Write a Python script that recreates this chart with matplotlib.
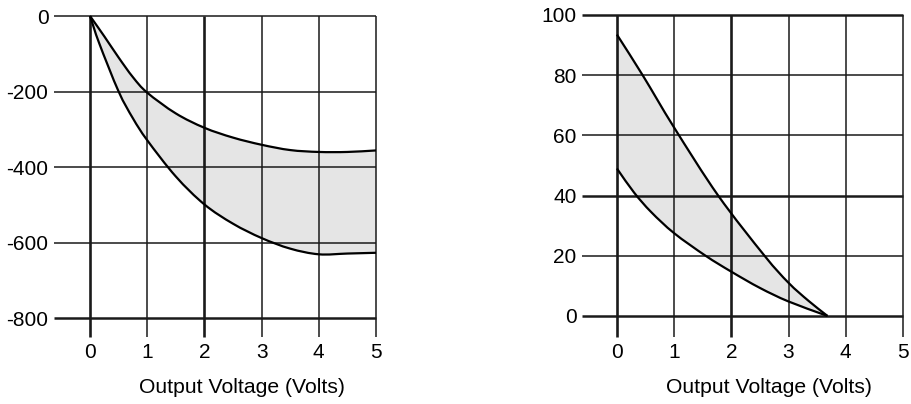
import matplotlib
matplotlib.use("Agg")
import matplotlib.pyplot as plt
import matplotlib.transforms as mtransforms
from matplotlib.path import Path
from matplotlib.patches import PathPatch
import numpy as np

plt.rcParams['font.family'] = ['Liberation Sans', 'DejaVu Sans']
plt.rcParams['axes.unicode_minus'] = False

# left chart: two boundary curves
left_x_upper = [0, 0.25, 0.5, 0.75, 1, 1.5, 2, 2.5, 3, 3.5, 4, 4.5, 5]
left_y_upper = [0, -54, -110, -162, -203, -258, -296, -322, -341, -355, -360, -360, -356]
left_x_lower = [0, 0.16, 0.5, 0.75, 1, 1.5, 2, 2.5, 3, 3.5, 4, 4.5, 5]
left_y_lower = [0, -72, -200, -271, -329, -425, -499, -550, -588, -616, -631, -629, -627]
left_xticks = [0, 1, 2, 3, 4, 5]
left_yticks = [0, -200, -400, -600, -800]

# right chart
right_x_upper = [0, 0.45, 1.0, 1.77, 2.58, 3.0, 3.35, 3.68]
right_y_upper = [93.5, 80, 62.6, 40, 20, 11, 5, 0]
right_x_lower = [0, 0.3, 0.6, 1.0, 1.55, 2.0, 2.5, 3.0, 3.68]
right_y_lower = [49, 41, 34.5, 27.5, 20, 14.7, 9.3, 4.8, 0]
right_xticks = [0, 1, 2, 3, 4, 5]
right_yticks = [0, 20, 40, 60, 80, 100]

xlabel = "Output Voltage (Volts)"

fig = plt.figure(figsize=(9.12, 4.04), dpi=100)
ax1 = fig.add_axes([54/912, 67/404, 322/912, 321/404])
ax2 = fig.add_axes([582/912, 67/404, 321/912, 322/404])


def curve_segments(x, y, first=True):
    # catmull-rom through the read points, as bezier segments
    p = np.column_stack([x, y]).astype(float)
    verts = [tuple(p[0])]
    codes = [Path.MOVETO] if first else [Path.LINETO]
    n = len(p)
    for i in range(n - 1):
        p1, p2 = p[i], p[i + 1]
        p0 = p[i - 1] if i > 0 else 2 * p1 - p2
        p3 = p[i + 2] if i + 2 < n else 2 * p2 - p1
        c1 = p1 + (p2 - p0) / 6
        c2 = p2 - (p3 - p1) / 6
        verts += [tuple(c1), tuple(c2), tuple(p2)]
        codes += [Path.CURVE4] * 3
    return verts, codes


def draw(ax, xu, yu, xl, yl, xt, yt, xmin, ymin, ymax, thick_x, thick_y):
    ax.set_xlim(xmin, 5)
    ax.set_ylim(ymin, ymax)
    for s in ax.spines.values():
        s.set_visible(False)
    # shaded band
    v1, c1 = curve_segments(xu, yu)
    v2, c2 = curve_segments(xl[::-1], yl[::-1], first=False)
    band = Path(v1 + v2 + [v1[0]], c1 + c2 + [Path.CLOSEPOLY])
    ax.add_patch(PathPatch(band, facecolor='#e5e5e5', lw=0, zorder=1))
    # grid
    for y in yt:
        lw = 1.8 if y in thick_y else 1.1
        ax.plot([xmin, 5], [y, y], color='#1a1a1a', lw=lw, zorder=2, clip_on=False,
                solid_capstyle='butt')
    for x in xt:
        lw = 1.9 if x in thick_x else 1.1
        ax.plot([x, x], [ymin, ymax], color='#1a1a1a', lw=lw, zorder=2, clip_on=False,
                solid_capstyle='butt')
    for xs, ys in [(xu, yu), (xl, yl)]:
        v, c = curve_segments(xs, ys)
        ax.add_patch(PathPatch(Path(v, c), facecolor='none', edgecolor='black',
                               lw=1.6, zorder=3, clip_on=False))
    ax.set_xticks(xt)
    ax.set_yticks(yt)
    ax.tick_params(length=0, labelsize=15, colors='black')
    ax.tick_params(axis='x', pad=4)
    ax.tick_params(axis='y', pad=4)
    trans = mtransforms.blended_transform_factory(ax.transData, ax.transAxes)
    ax.text(2.65, -0.157, xlabel, transform=trans, ha='center', va='center', fontsize=15.2)


draw(ax1, np.array(left_x_upper), np.array(left_y_upper),
     np.array(left_x_lower), np.array(left_y_lower),
     left_xticks, left_yticks, -0.63, -850, 0, [0, 2], [-800])
draw(ax2, np.array(right_x_upper), np.array(right_y_upper),
     np.array(right_x_lower), np.array(right_y_lower),
     right_xticks, right_yticks, -0.61, -7, 100, [0, 2], [0, 40, 100])

fig.savefig("out.png", dpi=100)
